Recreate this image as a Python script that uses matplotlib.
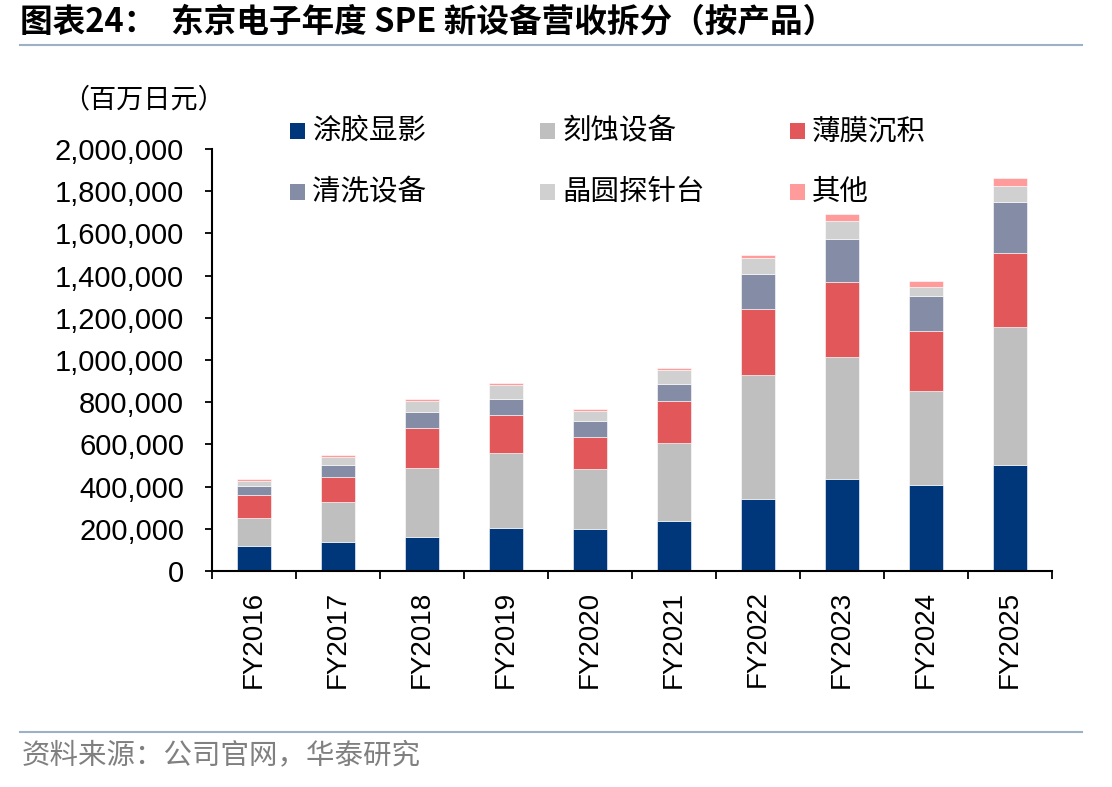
import numpy as np
import matplotlib
matplotlib.use("Agg")
import matplotlib.pyplot as plt
from matplotlib.patches import Rectangle
from matplotlib.lines import Line2D
from matplotlib.ticker import FuncFormatter

plt.rcParams['font.family'] = ['Liberation Sans', 'Noto Sans CJK SC', 'DejaVu Sans']
CJK = ['Noto Sans CJK SC', 'DejaVu Sans']

# 数据（百万日元）
years = ['FY2016', 'FY2017', 'FY2018', 'FY2019', 'FY2020',
         'FY2021', 'FY2022', 'FY2023', 'FY2024', 'FY2025']
coat_develop = [120000, 137000, 163000, 205000, 199000, 238000, 341000, 436000, 408000, 501000]
etch = [130000, 189000, 327000, 356000, 284000, 369000, 586000, 578000, 444000, 654000]
deposition = [112000, 119000, 186000, 177000, 152000, 200000, 316000, 356000, 287000, 352000]
cleaning = [41000, 57000, 79000, 79000, 76000, 81000, 163000, 202000, 163000, 242000]
prober = [24000, 38000, 52000, 64000, 46000, 66000, 77000, 85000, 43000, 75000]
others = [9000, 10000, 8000, 9000, 9000, 8000, 13000, 33000, 28000, 37000]

series_names = ['涂胶显影', '刻蚀设备', '薄膜沉积', '清洗设备', '晶圆探针台', '其他']
series_values = [coat_develop, etch, deposition, cleaning, prober, others]
colors = ['#00377A', '#BFBFBF', '#E1575A', '#858CA5', '#D0D0D0', '#FF9B9B']

W, H = 1112, 787
fig = plt.figure(figsize=(W / 100, H / 100), dpi=100)
ax = fig.add_axes([212 / W, 1 - 571 / H, 840 / W, 422 / H])

x = np.arange(len(years))
bottom = np.zeros(len(years))
for name, vals, c in zip(series_names, series_values, colors):
    ax.bar(x, vals, width=0.4, bottom=bottom, color=c, edgecolor='white',
           linewidth=0.4, label=name)
    bottom += np.array(vals)

ax.set_xlim(-0.5, len(years) - 0.5)
ax.set_ylim(0, 2000000)
ax.set_yticks(np.arange(0, 2000001, 200000))
ax.yaxis.set_major_formatter(FuncFormatter(lambda v, p: f'{int(v):,}'))
ax.tick_params(axis='y', direction='out', length=5, width=1.3, pad=15, labelsize=21)

# x 轴：刻度在类别之间，标签竖排
ax.set_xticks(np.arange(-0.5, len(years), 1.0))
ax.set_xticklabels([])
ax.set_xticks(x, minor=True)
ax.set_xticklabels(years, minor=True, rotation=90)
ax.tick_params(axis='x', which='major', direction='out', length=6, width=1.3)
ax.tick_params(axis='x', which='minor', length=0, pad=14, labelsize=20)

for s in ['top', 'right']:
    ax.spines[s].set_visible(False)
for s in ['left', 'bottom']:
    ax.spines[s].set_linewidth(1.5)

# 图例（手动排布）
leg_x = [290, 540, 790]
leg_y = [131, 192]
for i, (name, c) in enumerate(zip(series_names, colors)):
    px = leg_x[i % 3]
    py = leg_y[i // 3]
    fig.add_artist(Rectangle((px / W, 1 - (py + 7.5) / H), 15 / W, 15 / H,
                             transform=fig.transFigure, facecolor=c, edgecolor='none'))
    fig.text((px + 22) / W, 1 - py / H, name, family=CJK, fontsize=20.5,
             va='center', ha='left', color='black')

# 标题、单位、来源
fig.text(20 / W, 1 - 22 / H, '图表24：  东京电子年度 SPE 新设备营收拆分（按产品）',
         family=CJK, fontsize=23.5, fontweight='bold', va='center', ha='left')
fig.add_artist(Line2D([20 / W, 1082 / W], [1 - 45 / H, 1 - 45 / H],
                      transform=fig.transFigure, color='#9CB0C6', linewidth=1.5))
fig.text(62 / W, 1 - 100 / H, '（百万日元）', family=CJK, fontsize=19.5,
         va='center', ha='left')
fig.add_artist(Line2D([20 / W, 1082 / W], [1 - 732 / H, 1 - 732 / H],
                      transform=fig.transFigure, color='#9CB0C6', linewidth=1.5))
fig.text(22 / W, 1 - 755 / H, '资料来源：公司官网，华泰研究', family=CJK, fontsize=20.5,
         va='center', ha='left', color='#808080')

fig.savefig('out.png', dpi=100)
